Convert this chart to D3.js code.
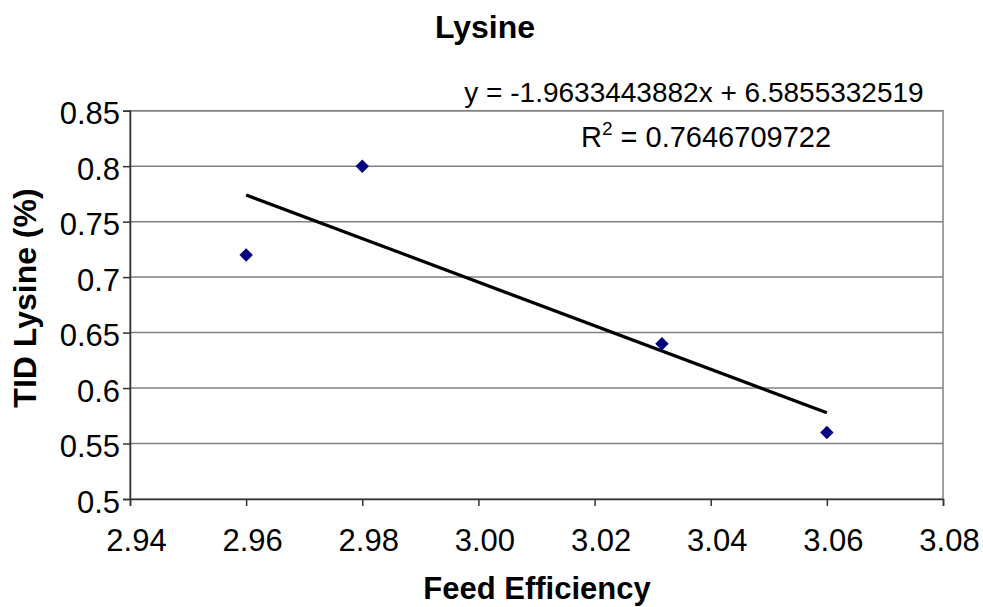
<!DOCTYPE html>
<html><head><meta charset="utf-8">
<script src="https://cdn.jsdelivr.net/npm/d3@7"></script>
<style>
body{margin:0;background:#fff;}
text{font-family:"Liberation Sans",Arial,sans-serif;fill:#000;}
</style></head>
<body><svg id="c" width="983" height="607"></svg>
<script>
const feedEfficiency = [2.96, 2.98, 3.0316, 3.06];
const tidLysine = [0.72, 0.80, 0.64, 0.56];
const xTicks = [2.94, 2.96, 2.98, 3.00, 3.02, 3.04, 3.06, 3.08];
const yTicks = [0.5, 0.55, 0.6, 0.65, 0.7, 0.75, 0.8, 0.85];
const trendCoef = [-1.9633443882, 6.5855332519]; // slope, intercept
const trendRange = [2.96, 3.06];
const rSquared = "0.7646709722";
const titleText = "Lysine";
const xTitle = "Feed Efficiency";
const yTitle = "TID Lysine (%)";

const W = 983, H = 607;
const m = {left:130, right:40, top:110.7, bottom:108};
const svg = d3.select("#c");
const x = d3.scaleLinear().domain([2.94, 3.08]).range([m.left, W - m.right]);
const y = d3.scaleLinear().domain([0.5, 0.85]).range([H - m.bottom, m.top]);

// gridlines
svg.append("g").selectAll("line").data(yTicks.slice(1)).join("line")
  .attr("x1", m.left).attr("x2", W - m.right)
  .attr("y1", d => y(d)).attr("y2", d => y(d))
  .attr("stroke", "#808080").attr("stroke-width", 1.5);

// plot border
svg.append("rect").attr("x", m.left).attr("y", m.top)
  .attr("width", W - m.right - m.left).attr("height", H - m.bottom - m.top)
  .attr("fill", "none").attr("stroke", "#808080").attr("stroke-width", 1.5);

// axes
const xAxis = svg.append("g").attr("transform", `translate(0,${H - m.bottom})`)
  .call(d3.axisBottom(x).tickValues(xTicks).tickFormat(d3.format(".2f")).tickSizeOuter(0).tickSize(7));
const yAxis = svg.append("g").attr("transform", `translate(${m.left},0)`)
  .call(d3.axisLeft(y).tickValues(yTicks).tickFormat(d => String(+d.toFixed(2))).tickSizeOuter(0).tickSize(7).tickPadding(3));
[xAxis, yAxis].forEach(a => {
  a.select(".domain").attr("stroke", "#333").attr("stroke-width", 1.5);
  a.selectAll(".tick line").attr("stroke", "#333").attr("stroke-width", 1.5);
  a.selectAll(".tick text").attr("font-size", 31).attr("font-family", "Liberation Sans, Arial, sans-serif").attr("fill", "#000");
});
xAxis.selectAll(".tick text").attr("y", 52).attr("dy", 0).attr("dx", 6);
yAxis.selectAll(".tick text").attr("dy", "0.42em");

// trendline
const f = v => trendCoef[0] * v + trendCoef[1];
svg.append("line")
  .attr("x1", x(trendRange[0])).attr("y1", y(f(trendRange[0])))
  .attr("x2", x(trendRange[1])).attr("y2", y(f(trendRange[1])))
  .attr("stroke", "#000").attr("stroke-width", 3.2);

// points
svg.append("g").selectAll("path").data(feedEfficiency).join("path")
  .attr("d", d3.symbol(d3.symbolSquare, 90))
  .attr("transform", (d, i) => `translate(${x(d)},${y(tidLysine[i])}) rotate(45)`)
  .attr("fill", "#000080");

// titles
svg.append("text").attr("x", 485).attr("y", 38).attr("text-anchor", "middle")
  .attr("font-size", 32).attr("font-weight", "bold").text(titleText);
svg.append("text").attr("x", 537).attr("y", 599).attr("text-anchor", "middle")
  .attr("font-size", 31).attr("font-weight", "bold").text(xTitle);
svg.append("text").attr("transform", "translate(36,298) rotate(-90)").attr("text-anchor", "middle")
  .attr("font-size", 32).attr("font-weight", "bold").text(yTitle);

// equation labels
const sgn = trendCoef[1] >= 0 ? " + " : " - ";
svg.append("text").attr("x", 694).attr("y", 102).attr("text-anchor", "middle")
  .attr("font-size", 28)
  .text(`y = ${trendCoef[0]}x${sgn}${Math.abs(trendCoef[1])}`);
const r2 = svg.append("text").attr("x", 706).attr("y", 147).attr("text-anchor", "middle").attr("font-size", 29);
r2.append("tspan").text("R");
r2.append("tspan").attr("font-size", 19).attr("dy", -12).text("2");
r2.append("tspan").attr("dy", 12).text(` = ${rSquared}`);
</script></body></html>
